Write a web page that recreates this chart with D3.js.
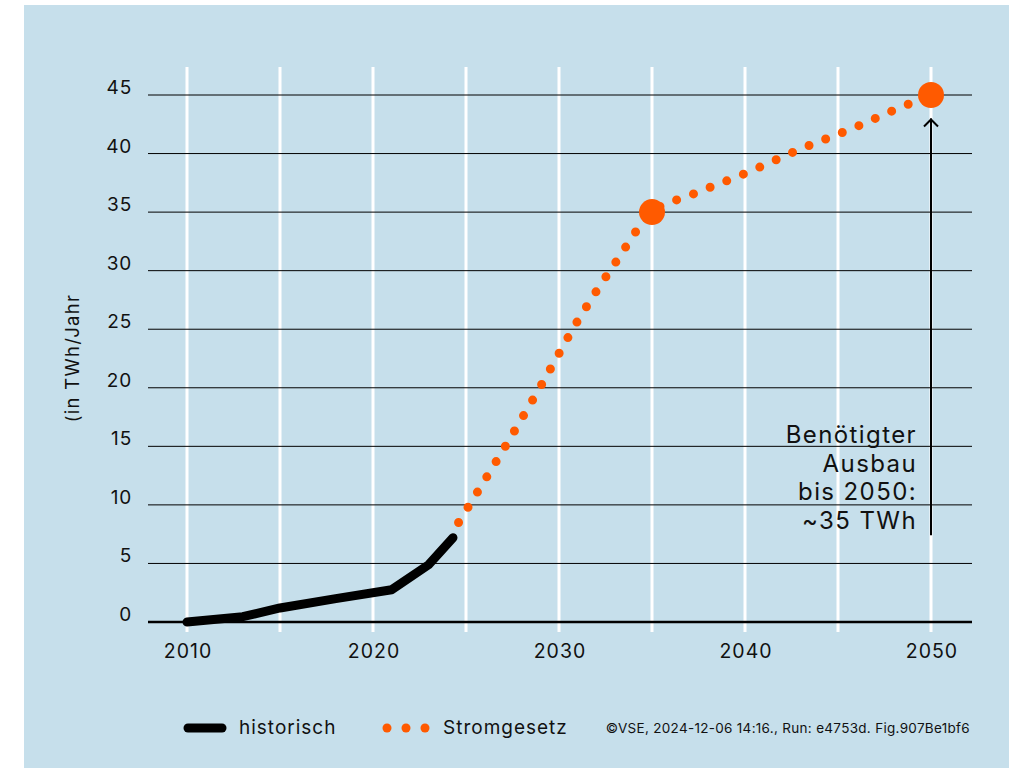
<!DOCTYPE html>
<html>
<head>
    <meta charset="utf-8">
    <title>Stromgesetz</title>
    <script src="https://d3js.org/d3.v7.min.js"></script>
    <style>
        body { margin: 0; background: #fff; }
        text { font-family: Inter, "DejaVu Sans", sans-serif; fill: #111; }
    </style>
</head>
<body>
<script>
    // Data
    const histYears = [2010, 2013, 2015, 2018, 2021, 2023, 2024.3];
    const histValues = [0, 0.45, 1.2, 2.0, 2.75, 4.9, 7.2];

    const lawYears = [2024.6, 2027, 2029, 2031, 2033, 2035, 2037, 2040, 2043, 2046, 2048, 2050];
    const lawValues = [8.5, 14.7, 20.1, 25.7, 30.6, 35, 36.4, 38.3, 40.4, 42.3, 43.7, 45];

    const markerYears = [2035, 2050];
    const markerValues = [35, 45];

    const xTicks = [2010, 2020, 2030, 2040, 2050];
    const xGrid = [2010, 2015, 2020, 2025, 2030, 2035, 2040, 2045, 2050];
    const yTicks = [0, 5, 10, 15, 20, 25, 30, 35, 40, 45];

    const arrowYear = 2050;
    const arrowFrom = 7.4, arrowTo = 43.0;
    const noteLines = ["Benötigter", "Ausbau", "bis 2050:", "~35 TWh"];

    const orange = "#ff5a00";
    const W = 1017, H = 768;

    const svg = d3.select("body").append("svg")
        .attr("width", W).attr("height", H);

    // background panel
    svg.append("rect")
        .attr("x", 24).attr("y", 5)
        .attr("width", 985).attr("height", H - 5)
        .attr("fill", "#c6dfeb");

    const x = d3.scaleLinear().domain([2010, 2050]).range([187, 931]);
    const y = d3.scaleLinear().domain([0, 45]).range([622, 95]);

    // vertical white grid
    svg.append("g").selectAll("line")
        .data(xGrid).enter().append("line")
        .attr("x1", d => x(d)).attr("x2", d => x(d))
        .attr("y1", 67).attr("y2", 632)
        .attr("stroke", "#fff").attr("stroke-width", 3);

    // horizontal grid
    svg.append("g").selectAll("line")
        .data(yTicks).enter().append("line")
        .attr("x1", 148).attr("x2", 972)
        .attr("y1", d => y(d)).attr("y2", d => y(d))
        .attr("stroke", "#000")
        .attr("stroke-width", d => d === 0 ? 2.5 : 1);

    // y tick labels
    svg.append("g").selectAll("text")
        .data(yTicks).enter().append("text")
        .attr("x", 132).attr("y", d => y(d) - 1)
        .attr("text-anchor", "end")
        .attr("font-size", 19)
        .attr("letter-spacing", 0.8)
        .text(d => d);

    // x tick labels
    svg.append("g").selectAll("text")
        .data(xTicks).enter().append("text")
        .attr("x", d => x(d) + 1).attr("y", 658)
        .attr("text-anchor", "middle")
        .attr("font-size", 19.5)
        .attr("letter-spacing", 1)
        .text(d => d);

    // y axis title
    svg.append("text")
        .attr("transform", "translate(79,358) rotate(-90)")
        .attr("text-anchor", "middle")
        .attr("font-size", 18.5)
        .attr("letter-spacing", 1.3)
        .text("(in TWh/Jahr");

    const line = d3.line()
        .x(d => x(d[0]))
        .y(d => y(d[1]));

    // historical line
    svg.append("path")
        .attr("d", line(d3.zip(histYears, histValues)))
        .attr("fill", "none")
        .attr("stroke", "#000")
        .attr("stroke-width", 9)
        .attr("stroke-linecap", "round")
        .attr("stroke-linejoin", "round");

    // Stromgesetz dotted line
    svg.append("path")
        .attr("d", line.curve(d3.curveMonotoneX)(d3.zip(lawYears, lawValues)))
        .attr("fill", "none")
        .attr("stroke", orange)
        .attr("stroke-width", 9)
        .attr("stroke-linecap", "round")
        .attr("stroke-dasharray", "0 17.9");

    // big markers
    svg.append("g").selectAll("circle")
        .data(d3.zip(markerYears, markerValues)).enter().append("circle")
        .attr("cx", d => x(d[0])).attr("cy", d => y(d[1]))
        .attr("r", 13)
        .attr("fill", orange);

    // annotation arrow
    const ax = x(arrowYear);
    svg.append("line")
        .attr("x1", ax).attr("x2", ax)
        .attr("y1", y(arrowFrom)).attr("y2", y(arrowTo))
        .attr("stroke", "#000").attr("stroke-width", 2);
    svg.append("path")
        .attr("d", `M${ax - 7},${y(arrowTo) + 8}L${ax},${y(arrowTo) + 1}L${ax + 7},${y(arrowTo) + 8}`)
        .attr("fill", "none")
        .attr("stroke", "#000").attr("stroke-width", 2);

    svg.append("g").selectAll("text")
        .data(noteLines).enter().append("text")
        .attr("x", 917)
        .attr("y", (d, i) => 443 + i * 28.5)
        .attr("text-anchor", "end")
        .attr("font-size", 24)
        .attr("letter-spacing", 1.4)
        .text(d => d);

    // legend
    const lg = svg.append("g");
    lg.append("line")
        .attr("x1", 188).attr("x2", 222)
        .attr("y1", 728).attr("y2", 728)
        .attr("stroke", "#000").attr("stroke-width", 9)
        .attr("stroke-linecap", "round");
    lg.append("text")
        .attr("x", 239).attr("y", 734)
        .attr("font-size", 19)
        .attr("letter-spacing", 1)
        .text("historisch");
    lg.selectAll("circle")
        .data([387, 406, 425]).enter().append("circle")
        .attr("cx", d => d).attr("cy", 728)
        .attr("r", 4.5)
        .attr("fill", orange);
    lg.append("text")
        .attr("x", 443).attr("y", 734)
        .attr("font-size", 19)
        .attr("letter-spacing", 1)
        .text("Stromgesetz");

    svg.append("text")
        .attr("x", 970).attr("y", 733)
        .attr("text-anchor", "end")
        .attr("font-size", 13.5)
        .attr("letter-spacing", 0.3)
        .text("©VSE, 2024-12-06 14:16., Run: e4753d. Fig.907Be1bf6");
</script>
</body>
</html>
